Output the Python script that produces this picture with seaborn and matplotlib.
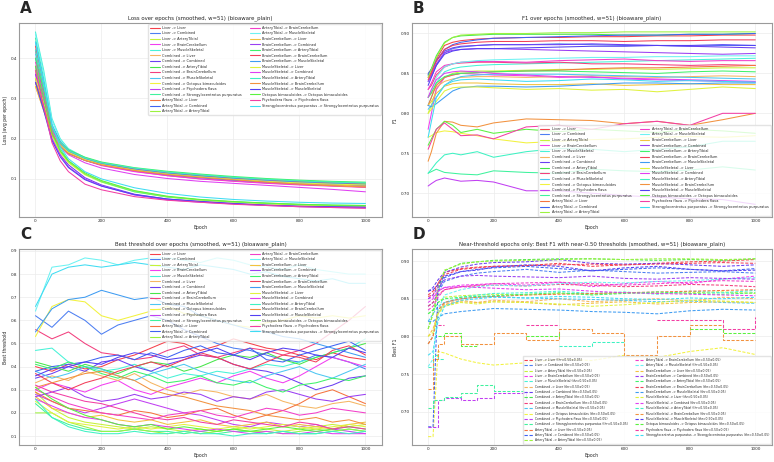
import numpy as np
import pandas as pd
import matplotlib
matplotlib.use("Agg")
import matplotlib.pyplot as plt
from matplotlib.lines import Line2D
import seaborn as sns

nan = np.nan

# run names (source -> target)
pairs = [
    "Liver -> Liver", "Liver -> Combined", "Liver -> ArteryTibial", "Liver -> BrainCerebellum",
    "Liver -> MuscleSkeletal", "Combined -> Liver", "Combined -> Combined", "Combined -> ArteryTibial",
    "Combined -> BrainCerebellum", "Combined -> MuscleSkeletal", "Combined -> Octopus bimaculoides",
    "Combined -> Ptychodera flava", "Combined -> Strongylocentrotus purpuratus", "ArteryTibial -> Liver",
    "ArteryTibial -> Combined", "ArteryTibial -> ArteryTibial", "ArteryTibial -> BrainCerebellum",
    "ArteryTibial -> MuscleSkeletal", "BrainCerebellum -> Liver", "BrainCerebellum -> Combined",
    "BrainCerebellum -> ArteryTibial", "BrainCerebellum -> BrainCerebellum", "BrainCerebellum -> MuscleSkeletal",
    "MuscleSkeletal -> Liver", "MuscleSkeletal -> Combined", "MuscleSkeletal -> ArteryTibial",
    "MuscleSkeletal -> BrainCerebellum", "MuscleSkeletal -> MuscleSkeletal",
    "Octopus bimaculoides -> Octopus bimaculoides", "Ptychodera flava -> Ptychodera flava",
    "Strongylocentrotus purpuratus -> Strongylocentrotus purpuratus",
]
colors = [
    "#f5414b", "#4d7ff2", "#c5f23a", "#f23ef0", "#47f2d7", "#f5b663", "#6b3ff2", "#47e64a",
    "#f23f7d", "#4dc6f2", "#f2f23f", "#c13ff2", "#3ff29d", "#f5733f", "#3f62f2", "#9cf23f",
    "#f23fc9", "#6df2f2", "#f2c23f", "#9a3ff2", "#3ff26b", "#f23f5a", "#3f9cf2", "#e0f23f",
    "#e03ff2", "#3ff2c3", "#f2923f", "#533ff2", "#5af23f", "#f23fa4", "#3fdcf2",
]
# runs whose near-0.50 curve only exists in pieces (drawn as steps)
sparse_runs = [11, 12, 25, 26, 28, 29]

# ---- A: loss
loss_epochs = [0, 25, 50, 75, 100, 150, 200, 300, 400, 500, 600, 700, 800, 900, 1000]
loss_values = [
    [0.43, 0.33, 0.23, 0.19, 0.172, 0.152, 0.140, 0.125, 0.114, 0.106, 0.100, 0.095, 0.091, 0.088, 0.086],
    [0.40, 0.31, 0.22, 0.185, 0.167, 0.148, 0.136, 0.121, 0.111, 0.104, 0.098, 0.093, 0.089, 0.086, 0.083],
    [0.36, 0.29, 0.215, 0.183, 0.165, 0.147, 0.135, 0.122, 0.113, 0.106, 0.100, 0.096, 0.093, 0.090, 0.088],
    [0.42, 0.32, 0.22, 0.186, 0.166, 0.146, 0.133, 0.118, 0.108, 0.100, 0.095, 0.090, 0.086, 0.083, 0.080],
    [0.465, 0.37, 0.25, 0.20, 0.175, 0.153, 0.140, 0.126, 0.116, 0.108, 0.102, 0.097, 0.093, 0.090, 0.087],
    [0.33, 0.27, 0.21, 0.180, 0.163, 0.146, 0.135, 0.121, 0.111, 0.104, 0.098, 0.093, 0.088, 0.084, 0.080],
    [0.35, 0.28, 0.20, 0.16, 0.135, 0.103, 0.085, 0.062, 0.050, 0.044, 0.039, 0.035, 0.033, 0.031, 0.030],
    [0.38, 0.30, 0.22, 0.187, 0.168, 0.150, 0.139, 0.126, 0.117, 0.110, 0.104, 0.099, 0.095, 0.092, 0.090],
    [0.37, 0.29, 0.215, 0.183, 0.165, 0.147, 0.136, 0.122, 0.112, 0.105, 0.099, 0.094, 0.090, 0.087, 0.084],
    [0.41, 0.32, 0.225, 0.188, 0.168, 0.149, 0.137, 0.123, 0.113, 0.106, 0.100, 0.095, 0.091, 0.088, 0.085],
    [0.34, 0.28, 0.205, 0.165, 0.14, 0.11, 0.092, 0.068, 0.055, 0.047, 0.042, 0.038, 0.035, 0.033, 0.032],
    [0.36, 0.29, 0.20, 0.16, 0.13, 0.10, 0.083, 0.060, 0.048, 0.042, 0.038, 0.034, 0.031, 0.029, 0.028],
    [0.45, 0.35, 0.23, 0.175, 0.145, 0.112, 0.093, 0.068, 0.055, 0.048, 0.043, 0.040, 0.037, 0.035, 0.034],
    [0.35, 0.28, 0.215, 0.183, 0.166, 0.149, 0.138, 0.124, 0.114, 0.107, 0.101, 0.096, 0.091, 0.087, 0.084],
    [0.34, 0.28, 0.21, 0.18, 0.163, 0.146, 0.135, 0.121, 0.110, 0.103, 0.097, 0.092, 0.088, 0.085, 0.082],
    [0.37, 0.30, 0.21, 0.168, 0.142, 0.112, 0.094, 0.070, 0.056, 0.048, 0.043, 0.039, 0.036, 0.034, 0.033],
    [0.39, 0.31, 0.22, 0.185, 0.166, 0.147, 0.134, 0.119, 0.108, 0.100, 0.094, 0.089, 0.085, 0.082, 0.079],
    [0.46, 0.36, 0.245, 0.197, 0.172, 0.151, 0.139, 0.125, 0.115, 0.107, 0.101, 0.096, 0.092, 0.089, 0.086],
    [0.33, 0.27, 0.21, 0.182, 0.165, 0.148, 0.137, 0.123, 0.113, 0.106, 0.100, 0.094, 0.089, 0.085, 0.082],
    [0.36, 0.29, 0.215, 0.183, 0.165, 0.147, 0.136, 0.122, 0.112, 0.105, 0.099, 0.094, 0.090, 0.087, 0.085],
    [0.40, 0.32, 0.23, 0.192, 0.172, 0.154, 0.142, 0.128, 0.119, 0.112, 0.106, 0.101, 0.097, 0.094, 0.092],
    [0.42, 0.33, 0.23, 0.19, 0.170, 0.151, 0.139, 0.125, 0.115, 0.108, 0.102, 0.097, 0.093, 0.090, 0.087],
    [0.44, 0.34, 0.235, 0.192, 0.170, 0.150, 0.138, 0.124, 0.114, 0.107, 0.101, 0.096, 0.092, 0.089, 0.086],
    [0.35, 0.29, 0.215, 0.184, 0.166, 0.148, 0.136, 0.122, 0.112, 0.105, 0.099, 0.094, 0.090, 0.087, 0.085],
    [0.38, 0.30, 0.215, 0.180, 0.160, 0.140, 0.127, 0.111, 0.101, 0.094, 0.089, 0.084, 0.079, 0.074, 0.068],
    [0.42, 0.33, 0.23, 0.19, 0.170, 0.152, 0.140, 0.127, 0.117, 0.110, 0.104, 0.099, 0.095, 0.092, 0.090],
    [0.34, 0.28, 0.21, 0.18, 0.163, 0.146, 0.135, 0.121, 0.111, 0.104, 0.098, 0.092, 0.087, 0.083, 0.080],
    [0.34, 0.27, 0.195, 0.155, 0.128, 0.098, 0.082, 0.061, 0.050, 0.044, 0.039, 0.035, 0.032, 0.031, 0.030],
    [0.38, 0.30, 0.215, 0.17, 0.145, 0.115, 0.096, 0.071, 0.057, 0.049, 0.044, 0.040, 0.037, 0.035, 0.034],
    [0.37, 0.28, 0.19, 0.145, 0.118, 0.087, 0.073, 0.056, 0.047, 0.042, 0.037, 0.034, 0.031, 0.029, 0.027],
    [0.44, 0.34, 0.235, 0.18, 0.15, 0.118, 0.100, 0.078, 0.064, 0.055, 0.049, 0.045, 0.042, 0.040, 0.039],
]

# ---- B: F1
f1_epochs = [0, 10, 25, 50, 75, 100, 150, 200, 300, 400, 500, 600, 700, 800, 900, 1000]
f1_values = [
    [0.845, 0.852, 0.868, 0.885, 0.889, 0.891, 0.893, 0.894, 0.895, 0.895, 0.896, 0.896, 0.897, 0.897, 0.898, 0.898],
    [0.84, 0.846, 0.86, 0.876, 0.881, 0.883, 0.885, 0.886, 0.886, 0.887, 0.886, 0.885, 0.885, 0.884, 0.885, 0.885],
    [0.80, 0.81, 0.83, 0.845, 0.85, 0.852, 0.853, 0.853, 0.854, 0.855, 0.855, 0.856, 0.855, 0.856, 0.857, 0.857],
    [0.78, 0.80, 0.83, 0.845, 0.848, 0.85, 0.849, 0.848, 0.847, 0.845, 0.846, 0.843, 0.842, 0.841, 0.840, 0.839],
    [0.81, 0.82, 0.838, 0.852, 0.856, 0.858, 0.86, 0.861, 0.862, 0.863, 0.864, 0.865, 0.866, 0.867, 0.868, 0.869],
    [0.82, 0.825, 0.833, 0.84, 0.843, 0.845, 0.846, 0.846, 0.845, 0.846, 0.847, 0.846, 0.845, 0.846, 0.847, 0.846],
    [0.85, 0.855, 0.866, 0.878, 0.882, 0.884, 0.885, 0.886, 0.886, 0.886, 0.887, 0.886, 0.885, 0.884, 0.883, 0.882],
    [0.848, 0.856, 0.872, 0.889, 0.895, 0.897, 0.898, 0.899, 0.899, 0.899, 0.899, 0.898, 0.898, 0.899, 0.899, 0.900],
    [0.83, 0.835, 0.848, 0.858, 0.862, 0.863, 0.864, 0.864, 0.863, 0.864, 0.862, 0.862, 0.861, 0.860, 0.861, 0.860],
    [0.805, 0.81, 0.82, 0.835, 0.842, 0.846, 0.848, 0.849, 0.849, 0.849, 0.848, 0.847, 0.846, 0.845, 0.844, 0.843],
    [0.77, 0.772, 0.776, 0.778, 0.777, 0.775, 0.772, 0.768, 0.763, 0.765, 0.767, 0.768, 0.770, 0.771, 0.770, 0.772],
    [0.709, 0.712, 0.716, 0.719, 0.717, 0.715, 0.716, 0.714, 0.703, 0.703, 0.700, 0.697, 0.695, 0.693, 0.692, 0.686],
    [0.725, 0.727, 0.73, 0.726, 0.725, 0.724, 0.723, 0.728, 0.726, 0.725, 0.73, 0.728, 0.727, 0.729, 0.733, 0.729],
    [0.81, 0.82, 0.835, 0.845, 0.848, 0.85, 0.851, 0.852, 0.853, 0.854, 0.856, 0.857, 0.857, 0.858, 0.859, 0.86],
    [0.848, 0.855, 0.866, 0.88, 0.886, 0.889, 0.892, 0.894, 0.895, 0.896, 0.897, 0.898, 0.898, 0.899, 0.899, 0.900],
    [0.845, 0.855, 0.87, 0.888, 0.895, 0.898, 0.899, 0.900, 0.900, 0.901, 0.901, 0.902, 0.902, 0.902, 0.902, 0.902],
    [0.83, 0.838, 0.852, 0.86, 0.862, 0.864, 0.865, 0.865, 0.864, 0.866, 0.867, 0.868, 0.866, 0.865, 0.866, 0.866],
    [0.82, 0.828, 0.845, 0.858, 0.862, 0.864, 0.866, 0.867, 0.868, 0.869, 0.870, 0.870, 0.871, 0.871, 0.872, 0.872],
    [0.81, 0.815, 0.825, 0.834, 0.837, 0.838, 0.838, 0.837, 0.836, 0.836, 0.837, 0.835, 0.836, 0.837, 0.836, 0.836],
    [0.84, 0.848, 0.862, 0.876, 0.879, 0.88, 0.881, 0.881, 0.880, 0.879, 0.878, 0.877, 0.876, 0.875, 0.874, 0.875],
    [0.82, 0.826, 0.838, 0.846, 0.849, 0.85, 0.851, 0.852, 0.853, 0.853, 0.852, 0.851, 0.850, 0.852, 0.853, 0.852],
    [0.842, 0.85, 0.865, 0.88, 0.885, 0.887, 0.889, 0.890, 0.890, 0.891, 0.891, 0.890, 0.891, 0.891, 0.892, 0.892],
    [0.81, 0.808, 0.812, 0.82, 0.828, 0.832, 0.834, 0.834, 0.833, 0.834, 0.836, 0.838, 0.838, 0.837, 0.838, 0.838],
    [0.80, 0.805, 0.815, 0.828, 0.832, 0.833, 0.833, 0.832, 0.830, 0.831, 0.829, 0.830, 0.827, 0.830, 0.833, 0.831],
    [0.82, 0.83, 0.842, 0.85, 0.852, 0.853, 0.852, 0.850, 0.848, 0.846, 0.845, 0.844, 0.843, 0.842, 0.841, 0.840],
    [0.725, 0.73, 0.738, 0.748, 0.75, 0.748, 0.752, 0.745, 0.752, 0.756, 0.755, 0.752, 0.755, 0.758, 0.765, 0.765],
    [0.74, 0.752, 0.775, 0.79, 0.789, 0.785, 0.783, 0.788, 0.793, 0.792, 0.791, 0.787, 0.790, 0.785, 0.792, 0.80],
    [0.835, 0.845, 0.86, 0.874, 0.878, 0.88, 0.881, 0.881, 0.882, 0.883, 0.884, 0.884, 0.885, 0.885, 0.886, 0.885],
    [0.76, 0.768, 0.78, 0.79, 0.785, 0.776, 0.78, 0.775, 0.78, 0.777, 0.78, 0.778, 0.776, 0.78, 0.778, 0.775],
    [0.755, 0.765, 0.78, 0.788, 0.78, 0.772, 0.773, 0.768, 0.783, 0.785, 0.78, 0.787, 0.79, 0.785, 0.80, 0.80],
    [0.77, 0.79, 0.82, 0.835, 0.84, 0.842, 0.843, 0.842, 0.84, 0.841, 0.843, 0.842, 0.840, 0.841, 0.840, 0.839],
]

# ---- C: best threshold
thr_epochs = [0, 50, 100, 150, 200, 250, 300, 350, 400, 450, 500, 550, 600, 650, 700, 750, 800, 850, 900, 950, 1000]
thr_values = [
    [0.40, 0.38, 0.41, 0.39, 0.40, 0.43, 0.45, 0.48, 0.51, 0.50, 0.47, 0.49, 0.52, 0.50, 0.48, 0.47, 0.45, 0.43, 0.46, 0.44, 0.43],
    [0.62, 0.57, 0.64, 0.60, 0.54, 0.58, 0.60, 0.62, 0.60, 0.56, 0.53, 0.50, 0.48, 0.47, 0.45, 0.43, 0.42, 0.45, 0.44, 0.42, 0.39],
    [0.29, 0.22, 0.18, 0.16, 0.15, 0.14, 0.13, 0.14, 0.13, 0.12, 0.13, 0.12, 0.13, 0.14, 0.13, 0.12, 0.13, 0.14, 0.15, 0.14, 0.15],
    [0.30, 0.33, 0.31, 0.29, 0.32, 0.34, 0.30, 0.28, 0.31, 0.33, 0.35, 0.33, 0.36, 0.38, 0.35, 0.33, 0.36, 0.40, 0.44, 0.42, 0.40],
    [0.47, 0.48, 0.42, 0.40, 0.38, 0.39, 0.41, 0.38, 0.35, 0.37, 0.36, 0.38, 0.37, 0.39, 0.41, 0.40, 0.42, 0.44, 0.46, 0.48, 0.52],
    [0.33, 0.36, 0.34, 0.38, 0.36, 0.34, 0.37, 0.33, 0.30, 0.28, 0.30, 0.29, 0.27, 0.26, 0.28, 0.25, 0.23, 0.22, 0.24, 0.25, 0.23],
    [0.35, 0.37, 0.40, 0.38, 0.42, 0.43, 0.40, 0.38, 0.41, 0.43, 0.45, 0.44, 0.41, 0.39, 0.38, 0.36, 0.33, 0.30, 0.32, 0.35, 0.36],
    [0.42, 0.40, 0.38, 0.41, 0.39, 0.37, 0.40, 0.42, 0.41, 0.38, 0.40, 0.43, 0.45, 0.44, 0.46, 0.43, 0.41, 0.44, 0.46, 0.48, 0.50],
    [0.56, 0.52, 0.55, 0.50, 0.46, 0.45, 0.43, 0.44, 0.47, 0.49, 0.45, 0.44, 0.46, 0.48, 0.47, 0.45, 0.47, 0.50, 0.55, 0.60, 0.66],
    [0.38, 0.35, 0.37, 0.40, 0.39, 0.36, 0.34, 0.37, 0.39, 0.41, 0.38, 0.36, 0.34, 0.33, 0.36, 0.38, 0.40, 0.37, 0.35, 0.38, 0.41],
    [0.53, 0.66, 0.69, 0.68, 0.62, 0.60, 0.62, 0.64, 0.66, 0.63, 0.62, 0.60, 0.58, 0.57, 0.59, 0.60, 0.62, 0.61, 0.62, 0.61, 0.62],
    [0.28, 0.25, 0.22, 0.20, 0.22, 0.24, 0.26, 0.24, 0.22, 0.20, 0.19, 0.17, 0.15, 0.14, 0.16, 0.15, 0.14, 0.15, 0.13, 0.12, 0.11],
    [0.24, 0.18, 0.15, 0.13, 0.12, 0.12, 0.13, 0.12, 0.12, 0.11, 0.12, 0.11, 0.12, 0.12, 0.11, 0.12, 0.11, 0.11, 0.12, 0.13, 0.12],
    [0.29, 0.25, 0.22, 0.21, 0.20, 0.19, 0.21, 0.20, 0.18, 0.19, 0.21, 0.22, 0.19, 0.17, 0.19, 0.21, 0.24, 0.28, 0.30, 0.27, 0.24],
    [0.38, 0.40, 0.41, 0.42, 0.44, 0.45, 0.43, 0.46, 0.44, 0.47, 0.49, 0.46, 0.45, 0.48, 0.43, 0.42, 0.45, 0.47, 0.49, 0.51, 0.47],
    [0.20, 0.20, 0.16, 0.14, 0.12, 0.12, 0.13, 0.12, 0.11, 0.12, 0.11, 0.12, 0.13, 0.12, 0.12, 0.11, 0.12, 0.13, 0.12, 0.13, 0.12],
    [0.30, 0.27, 0.24, 0.22, 0.20, 0.19, 0.18, 0.17, 0.19, 0.20, 0.21, 0.19, 0.18, 0.20, 0.22, 0.21, 0.19, 0.20, 0.22, 0.21, 0.20],
    [0.64, 0.83, 0.84, 0.87, 0.86, 0.84, 0.86, 0.87, 0.87, 0.86, 0.85, 0.87, 0.86, 0.84, 0.83, 0.82, 0.84, 0.82, 0.81, 0.80, 0.80],
    [0.27, 0.22, 0.20, 0.18, 0.19, 0.17, 0.16, 0.17, 0.15, 0.16, 0.17, 0.15, 0.14, 0.15, 0.16, 0.14, 0.15, 0.14, 0.13, 0.15, 0.16],
    [0.27, 0.29, 0.31, 0.27, 0.25, 0.26, 0.28, 0.26, 0.27, 0.29, 0.28, 0.25, 0.27, 0.26, 0.29, 0.30, 0.28, 0.26, 0.25, 0.27, 0.28],
    [0.41, 0.39, 0.42, 0.40, 0.37, 0.35, 0.38, 0.36, 0.33, 0.34, 0.36, 0.33, 0.32, 0.34, 0.31, 0.29, 0.32, 0.33, 0.35, 0.34, 0.36],
    [0.37, 0.33, 0.30, 0.33, 0.35, 0.38, 0.40, 0.42, 0.40, 0.43, 0.46, 0.44, 0.41, 0.39, 0.42, 0.45, 0.44, 0.42, 0.47, 0.49, 0.45],
    [0.55, 0.65, 0.69, 0.70, 0.73, 0.71, 0.69, 0.70, 0.67, 0.66, 0.62, 0.60, 0.58, 0.56, 0.55, 0.53, 0.52, 0.50, 0.48, 0.46, 0.44],
    [0.25, 0.20, 0.16, 0.15, 0.14, 0.13, 0.14, 0.13, 0.14, 0.15, 0.14, 0.13, 0.14, 0.13, 0.14, 0.15, 0.14, 0.13, 0.14, 0.15, 0.14],
    [0.26, 0.23, 0.20, 0.18, 0.17, 0.15, 0.14, 0.15, 0.14, 0.13, 0.12, 0.13, 0.12, 0.11, 0.12, 0.11, 0.11, 0.12, 0.11, 0.11, 0.11],
    [0.26, 0.18, 0.14, 0.12, 0.11, 0.11, 0.12, 0.11, 0.11, 0.12, 0.11, 0.11, 0.10, 0.11, 0.11, 0.12, 0.11, 0.11, 0.12, 0.11, 0.12],
    [0.31, 0.33, 0.35, 0.37, 0.38, 0.36, 0.34, 0.30, 0.28, 0.27, 0.25, 0.23, 0.22, 0.21, 0.19, 0.18, 0.17, 0.18, 0.16, 0.17, 0.15],
    [0.36, 0.39, 0.40, 0.42, 0.41, 0.44, 0.46, 0.45, 0.43, 0.44, 0.46, 0.48, 0.45, 0.43, 0.46, 0.48, 0.47, 0.45, 0.44, 0.48, 0.46],
    [0.31, 0.26, 0.22, 0.19, 0.17, 0.15, 0.14, 0.15, 0.13, 0.14, 0.13, 0.12, 0.13, 0.12, 0.13, 0.14, 0.13, 0.12, 0.13, 0.14, 0.13],
    [0.32, 0.29, 0.27, 0.25, 0.24, 0.22, 0.20, 0.18, 0.17, 0.18, 0.16, 0.15, 0.17, 0.16, 0.15, 0.14, 0.16, 0.15, 0.13, 0.14, 0.13],
    [0.66, 0.80, 0.83, 0.84, 0.83, 0.84, 0.85, 0.84, 0.83, 0.82, 0.84, 0.83, 0.82, 0.80, 0.81, 0.79, 0.78, 0.77, 0.78, 0.76, 0.76],
]

# ---- D: best F1 restricted to near-0.50 thresholds (nan = no such epoch)
near_epochs = [0, 15, 30, 50, 100, 150, 200, 300, 400, 500, 600, 700, 800, 900, 1000]
near_values = [
    [0.853, 0.855, 0.87, 0.885, 0.89, 0.892, 0.893, 0.894, 0.897, 0.893, 0.895, 0.897, 0.899, 0.900, 0.902],
    [0.84, 0.845, 0.858, 0.873, 0.880, 0.884, 0.886, 0.889, 0.885, 0.888, 0.886, 0.884, 0.885, 0.886, 0.884],
    [0.83, 0.835, 0.845, 0.852, 0.854, 0.855, 0.856, 0.855, 0.857, 0.856, 0.858, 0.857, 0.858, 0.859, 0.857],
    [0.85, 0.852, 0.86, 0.865, 0.868, 0.869, 0.870, 0.868, 0.872, 0.866, 0.870, 0.873, 0.870, 0.876, 0.880],
    [0.79, 0.80, 0.83, 0.845, 0.852, 0.855, 0.857, 0.858, 0.86, 0.857, 0.859, 0.856, 0.86, 0.858, 0.861],
    [0.79, 0.80, 0.835, 0.843, 0.848, 0.845, 0.848, 0.846, 0.850, 0.846, 0.848, 0.850, 0.847, 0.852, 0.850],
    [0.86, 0.865, 0.875, 0.885, 0.892, 0.896, 0.898, 0.899, 0.902, 0.897, 0.896, 0.897, 0.895, 0.893, 0.895],
    [0.81, 0.83, 0.86, 0.887, 0.897, 0.899, 0.901, 0.902, 0.903, 0.903, 0.902, 0.901, 0.902, 0.901, 0.903],
    [0.84, 0.845, 0.855, 0.862, 0.866, 0.867, 0.868, 0.867, 0.869, 0.868, 0.866, 0.867, 0.869, 0.868, 0.866],
    [0.82, 0.83, 0.84, 0.845, 0.85, 0.852, 0.853, 0.851, 0.85, 0.849, 0.848, 0.846, 0.847, 0.845, 0.844],
    [0.667, 0.667, 0.78, 0.778, 0.77, 0.765, 0.762, 0.765, 0.77, 0.768, 0.775, 0.772, 0.78, 0.785, 0.776],
    [0.68, 0.68, 0.715, 0.718, 0.715, 0.718, 0.725, 0.715, nan, nan, nan, nan, nan, nan, nan],
    [0.705, 0.715, 0.715, 0.72, 0.725, 0.735, 0.728, 0.728, nan, nan, nan, nan, nan, nan, nan],
    [0.79, 0.80, 0.835, 0.845, 0.850, 0.852, 0.853, 0.855, 0.856, 0.857, 0.858, 0.859, 0.860, 0.861, 0.862],
    [0.68, 0.68, 0.86, 0.878, 0.886, 0.889, 0.891, 0.893, 0.890, 0.887, 0.889, 0.891, 0.889, 0.887, 0.890],
    [0.81, 0.83, 0.865, 0.888, 0.896, 0.899, 0.900, 0.901, 0.902, 0.903, 0.902, 0.903, 0.903, 0.902, 0.903],
    [0.835, 0.84, 0.852, 0.862, 0.866, 0.868, 0.870, 0.871, 0.872, 0.870, 0.868, 0.870, 0.872, 0.874, 0.873],
    [0.76, 0.77, 0.835, 0.855, 0.862, 0.866, 0.868, 0.867, 0.870, 0.872, 0.871, 0.873, 0.874, 0.876, 0.878],
    [0.80, 0.81, 0.83, 0.842, 0.846, 0.845, 0.846, 0.845, 0.842, 0.844, 0.846, 0.843, 0.845, 0.846, 0.845],
    [0.85, 0.855, 0.865, 0.875, 0.880, 0.881, 0.880, 0.879, 0.878, 0.880, 0.877, 0.876, 0.878, 0.877, 0.876],
    [0.83, 0.835, 0.845, 0.850, 0.852, 0.853, 0.854, 0.856, 0.858, 0.855, 0.857, 0.859, 0.857, 0.856, 0.858],
    [0.855, 0.86, 0.87, 0.882, 0.889, 0.891, 0.893, 0.894, 0.895, 0.896, 0.895, 0.896, 0.897, 0.898, 0.897],
    [0.82, 0.82, 0.825, 0.83, 0.833, 0.835, 0.837, 0.836, 0.835, 0.833, 0.832, 0.830, 0.834, 0.836, 0.835],
    [0.80, 0.805, 0.83, 0.84, 0.845, 0.843, 0.846, 0.845, 0.843, 0.840, 0.842, 0.845, 0.848, 0.847, 0.845],
    [0.845, 0.85, 0.86, 0.865, 0.866, 0.865, 0.864, 0.862, 0.863, 0.860, 0.858, 0.857, 0.856, 0.855, 0.854],
    [0.76, 0.775, 0.77, 0.77, nan, nan, nan, nan, 0.787, 0.792, 0.792, nan, nan, nan, nan],
    [0.73, 0.77, 0.79, 0.80, 0.79, 0.79, 0.805, 0.795, 0.81, 0.805, 0.775, 0.80, 0.815, 0.795, 0.795],
    [0.86, 0.862, 0.868, 0.88, 0.886, 0.888, 0.892, 0.895, 0.893, 0.887, 0.891, 0.893, 0.889, 0.887, 0.888],
    [nan, nan, 0.80, 0.805, 0.787, 0.79, nan, 0.80, 0.805, nan, nan, nan, 0.81, 0.805, 0.805],
    [nan, nan, 0.815, 0.815, nan, nan, nan, 0.815, 0.815, nan, nan, 0.822, 0.822, 0.81, 0.826],
    [0.775, 0.78, 0.82, 0.84, 0.848, 0.850, 0.852, 0.851, 0.853, 0.852, 0.850, 0.849, 0.851, 0.850, 0.852],
]


def long_table(epochs, values, labels, keep=None):
    rows = []
    for i, (lab, vals) in enumerate(zip(labels, values)):
        if keep is not None and i not in keep:
            continue
        seg = 0
        for e, v in zip(epochs, vals):
            if np.isnan(v):
                seg += 1
                continue
            rows.append((e, v, lab, f"{lab}#{seg}"))
    return pd.DataFrame(rows, columns=["epoch", "value", "run", "piece"])


sns.set_theme(style="whitegrid")
plt.rcParams["font.family"] = ["DejaVu Sans"]
plt.rcParams["axes.edgecolor"] = "#9a9a9a"
plt.rcParams["axes.linewidth"] = 0.8
plt.rcParams["grid.color"] = "#ececec"
plt.rcParams["grid.linewidth"] = 0.5

fig = plt.figure(figsize=(7.74, 4.62), dpi=100)
axA = fig.add_axes([0.0245, 0.530, 0.469, 0.420])
axB = fig.add_axes([0.532, 0.530, 0.465, 0.420])
axC = fig.add_axes([0.0245, 0.037, 0.469, 0.424])
axD = fig.add_axes([0.532, 0.037, 0.465, 0.424])

panels = [
    (axA, loss_epochs, loss_values, pairs, "Loss over epochs (smoothed, w=51) (bioaware_plain)",
     "Loss (avg per epoch)", "upper right", False),
    (axB, f1_epochs, f1_values, pairs, "F1 over epochs (smoothed, w=51) (bioaware_plain)",
     "F1", "lower right", False),
    (axC, thr_epochs, thr_values, pairs, "Best threshold over epochs (smoothed, w=51) (bioaware_plain)",
     "Best threshold", "upper right", False),
    (axD, near_epochs, near_values, [p + " (thr=0.50±0.05)" for p in pairs],
     "Near-threshold epochs only: Best F1 with near-0.50 thresholds (smoothed, w=51) (bioaware_plain)",
     "Best F1", "lower right", True),
]

for ax, epochs, values, labels, title, ylabel, loc, dashed in panels:
    common = dict(x="epoch", y="value", hue="run", hue_order=labels, palette=colors,
                  units="piece", estimator=None, linewidth=0.75, legend=False, ax=ax)
    if dashed:
        dense = [i for i in range(len(labels)) if i not in sparse_runs]
        sns.lineplot(data=long_table(epochs, values, labels, dense), linestyle=(0, (3, 1.5)), **common)
        sns.lineplot(data=long_table(epochs, values, labels, sparse_runs), linestyle=(0, (3, 1.5)),
                     drawstyle="steps-post", **common)
    else:
        sns.lineplot(data=long_table(epochs, values, labels), **common)
    ax.set_xlim(-50, 1050)
    ax.set_title(title, fontsize=3.9, pad=2.5)
    ax.set_xlabel("Epoch", fontsize=3.3, labelpad=1.5)
    ax.set_ylabel(ylabel, fontsize=3.3, labelpad=2)
    ax.tick_params(labelsize=3, pad=1.5, length=0)
    handles = [Line2D([], [], color=c, linewidth=0.8, linestyle=(0, (3, 1.5)) if dashed else "-")
               for c in colors]
    fs = 2.2 if dashed else 2.5
    ax.legend(handles, labels, loc=loc, ncol=2, fontsize=fs, frameon=True, framealpha=0.8,
              edgecolor="#dddddd", handlelength=2.8, labelspacing=0.45, columnspacing=2.2,
              borderaxespad=0.3, borderpad=0.5)

axB.set_ylim(0.670, 0.913)
axD.set_ylim(0.656, 0.916)
axB.yaxis.set_major_formatter(matplotlib.ticker.FormatStrFormatter("%.2f"))
axD.yaxis.set_major_formatter(matplotlib.ticker.FormatStrFormatter("%.2f"))

for x, y, letter in [(0.026, 0.998, "A"), (0.533, 0.998, "B"), (0.026, 0.508, "C"), (0.533, 0.508, "D")]:
    fig.text(x, y, letter, fontsize=11, fontweight="bold", va="top", ha="left")

fig.savefig("out.png", dpi=100)
